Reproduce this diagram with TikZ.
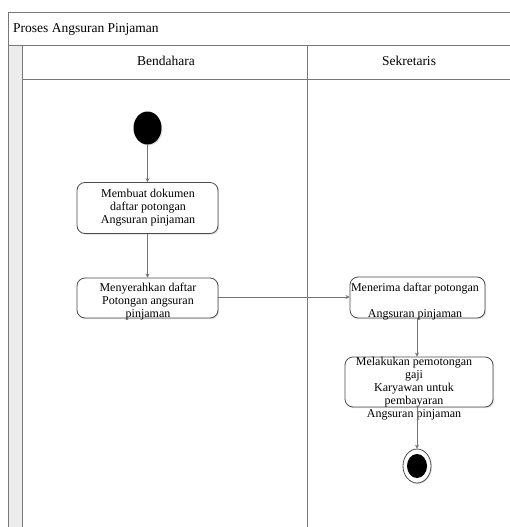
\documentclass[tikz,border=0pt]{standalone}
\usepackage{fontspec}
\setmainfont{Liberation Serif}
\usetikzlibrary{arrows.meta,shadows,shapes.geometric}
\definecolor{lane}{RGB}{120,120,120}
\definecolor{strip}{RGB}{236,236,236}
\tikzset{
  laneline/.style={draw=lane, line width=0.9pt},
  act/.style={draw=black!70, line width=0.8pt, rounded corners=8pt, fill=white,
    drop shadow={opacity=0.25, shadow xshift=1.2pt, shadow yshift=-1.2pt}},
  acttext/.style={font=\fontsize{12}{13}\selectfont, align=center, inner sep=0pt},
  headtext/.style={font=\fontsize{13.5}{14}\selectfont, inner sep=0pt},
  flow/.style={draw=black!55, line width=0.7pt, -{Stealth[length=4pt,width=4pt]}},
}
\begin{document}
\begin{tikzpicture}[x=1pt,y=-1pt]
\useasboundingbox (0,0) rectangle (510,527);
\fill[white] (0,0) rectangle (510,527);
% frame
\fill[strip] (8,45) rectangle (22,527);
\draw[laneline] (8,527) -- (8,12) -- (512,12);
\draw[laneline] (8,45) -- (512,45);
\draw[laneline] (22,45) -- (22,527);
\draw[laneline] (22,79) -- (512,79);
\draw[laneline] (307,45) -- (307,527);
\node[headtext, anchor=base west] (title) at (13,33) {Proses Angsuran Pinjaman};
\node[headtext, anchor=base] (lane1) at (166,66) {Bendahara};
\node[headtext, anchor=base] (lane2) at (409,66) {Sekretaris};
% start
\node[ellipse, fill=black, minimum width=28pt, minimum height=33pt, inner sep=0pt,
  drop shadow={opacity=0.25, shadow xshift=1pt, shadow yshift=-1pt}] (start) at (147.5,128) {};
% box1
\node[act, minimum width=141pt, minimum height=51pt] (b1) at (147.5,208) {};
\node[acttext, anchor=north] (t1) at (148,188.7) {Membuat dokumen\\daftar potongan\\Angsuran pinjaman};
% box2
\node[act, minimum width=141pt, minimum height=40pt] (b2) at (147.5,298) {};
\node[acttext, anchor=north] (t2) at (148,282.7) {Menyerahkan daftar\\Potongan angsuran\\pinjaman};
% box3
\node[act, minimum width=135pt, minimum height=41pt] (b3) at (417.5,297.5) {};
\node[acttext, anchor=base] (t3a) at (415,291) {Menerima daftar potongan};
\node[acttext, anchor=base] (t3b) at (415,317) {Angsuran pinjaman};
% box4
\node[act, minimum width=148pt, minimum height=50pt] (b4) at (419,382) {};
\node[acttext, anchor=north] (t4) at (414,356.7) {Melakukan pemotongan\\gaji\\Karyawan untuk\\pembayaran\\Angsuran pinjaman};
% end
\node[ellipse, draw=black!70, line width=0.8pt, fill=white, minimum width=28pt, minimum height=34pt, inner sep=0pt,
  drop shadow={opacity=0.25, shadow xshift=1pt, shadow yshift=-1pt}] (end) at (417,466) {};
\node[ellipse, fill=black, minimum width=20pt, minimum height=24pt, inner sep=0pt] (endin) at (end.center) {};
% flows
\draw[flow] (start) -- (b1.north -| start);
\draw[flow] (b1.south -| start) -- (b2.north -| start);
\draw[flow] (b2.east |- 0,297) -- (b3.west |- 0,297);
\draw[flow] (b3.south -| end) -- (b4.north -| end);
\draw[flow] (b4.south -| end) -- (end.north);
\end{tikzpicture}
\end{document}
